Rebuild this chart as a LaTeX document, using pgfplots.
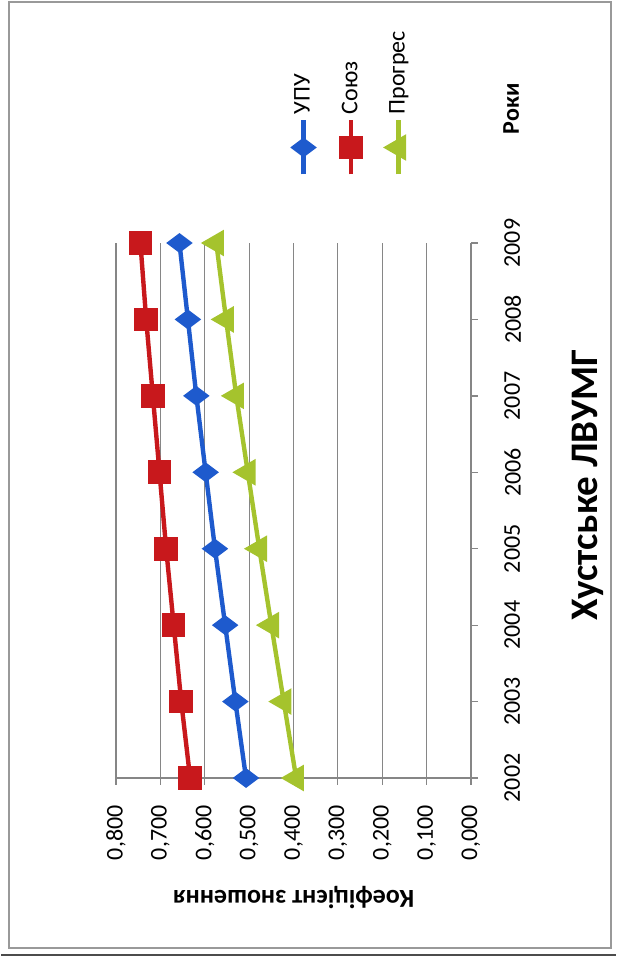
\documentclass[border=0pt]{standalone}
\usepackage{pgfplots}
\pgfplotsset{compat=1.18}
\usepackage{fontspec}
\setmainfont{Carlito}

\definecolor{upu}{RGB}{30,90,205}
\definecolor{soyuz}{RGB}{200,24,28}
\definecolor{progres}{RGB}{165,195,45}
\definecolor{gridgray}{RGB}{134,134,134}

\begin{document}
\begin{tikzpicture}
\begin{scope}[rotate=90, transform shape]
  % canvas: 959 x 615 units of 0.5pt
  \path (0pt,0pt) rectangle (479.5pt,307.5pt);
  \draw[gray!80, line width=0.6pt] (5.5pt,2.5pt) rectangle (478.5pt,303.5pt);
  \draw[gray!60!black, line width=1pt] (2pt,0pt) -- (2pt,307.5pt);
  \begin{axis}[
    at={(90.5pt,72.5pt)}, anchor=south west,
    scale only axis, width=267.5pt, height=177.5pt,
    xmin=2002, xmax=2009, ymin=0, ymax=0.8,
    xtick={2002,...,2009},
    ytick={0,0.1,...,0.81},
    clip=false,
    axis x line*=bottom, axis y line*=left,
    axis line style={gridgray, line width=0.6pt, -},
    tick style={gridgray, line width=0.6pt},
    tick align=outside,
    major tick length=3.5pt,
    ymajorgrids,
    grid style={gridgray, line width=0.6pt},
    /pgf/number format/assume math mode=true,
    font=\fontsize{12}{14}\selectfont,
    xticklabel style={/pgf/number format/1000 sep={}, inner sep=0pt, yshift=-13pt},
    yticklabel style={/pgf/number format/.cd, fixed, fixed zerofill, precision=3, use comma, /tikz/.cd, inner sep=0pt, xshift=-10pt},
    ylabel={\bfseries Коефіцієнт зношення},
    ylabel style={at={(axis description cs:-0.224,0.5)}, anchor=center, font=\fontsize{13}{15}\selectfont},
    xlabel={\bfseries Роки},
    xlabel style={at={(axis description cs:1.2505,-0.113)}, anchor=center},
    title={\bfseries Хустське ЛВУМГ},
    title style={at={(axis description cs:0.548,-0.39)}, anchor=base, inner sep=0pt, font=\bfseries\fontsize{19.5}{22}\selectfont},
    legend style={at={(axis description cs:1.112,0.338)}, anchor=west, draw=none, fill=none,
      row sep=10.5pt, font=\fontsize{12}{14}\selectfont},
    legend cell align=left,
    legend image code/.code={\draw[mark repeat=2, mark phase=2, #1] plot coordinates {(0pt,0pt) (13.5pt,0pt) (27pt,0pt)};},
    every axis plot/.append style={line width=2.2pt},
  ]
    \addplot[upu, mark=diamond*, mark size=4.8pt, mark options={solid}] coordinates {
      (2002,0.507) (2003,0.531) (2004,0.554) (2005,0.577)
      (2006,0.598) (2007,0.619) (2008,0.638) (2009,0.657)};
    \addlegendentry{УПУ}
    \addplot[soyuz, mark=square*, mark size=4.8pt, mark options={solid}] coordinates {
      (2002,0.633) (2003,0.653) (2004,0.670) (2005,0.687)
      (2006,0.702) (2007,0.717) (2008,0.732) (2009,0.745)};
    \addlegendentry{Союз}
    \addplot[progres, mark=triangle*, mark size=5.5pt, mark options={solid}] coordinates {
      (2002,0.394) (2003,0.422) (2004,0.450) (2005,0.477)
      (2006,0.503) (2007,0.529) (2008,0.552) (2009,0.574)};
    \addlegendentry{Прогрес}
  \end{axis}
\end{scope}
\end{tikzpicture}
\end{document}
